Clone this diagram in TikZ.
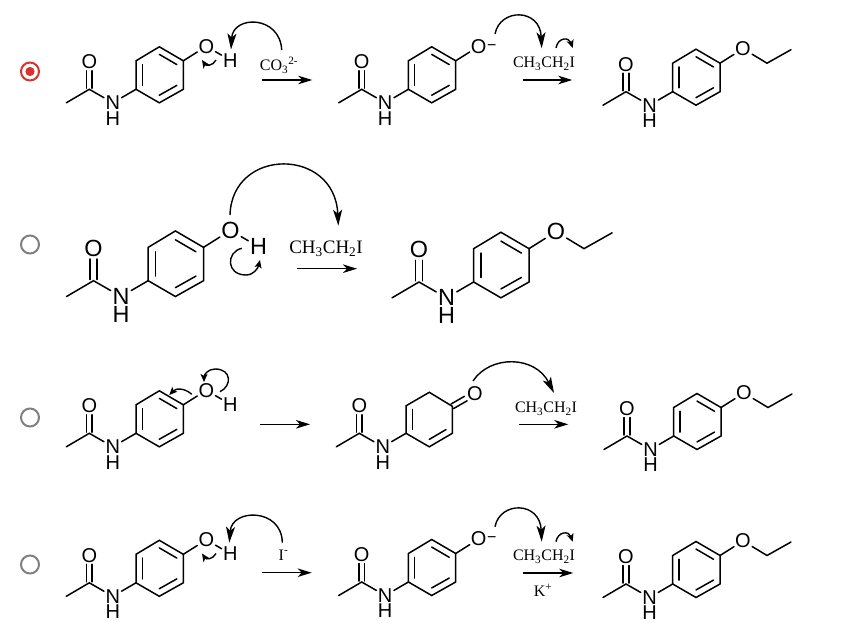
\documentclass[tikz,border=0pt]{standalone}
\usepackage{amsmath}
\usepackage{fontspec}
\setmainfont{Liberation Serif}
\newfontfamily\atomfont{Liberation Sans}
\usetikzlibrary{arrows.meta, calc}
\definecolor{radiored}{RGB}{214, 52, 44}
\definecolor{radiogray}{RGB}{128, 128, 128}
\tikzset{
  atom/.style={circle, inner sep=0pt, font=\atomfont\fontsize{20}{20}\selectfont},
  bondline/.style={line width=1.5pt, line cap=round},
  rxnarrow/.style={line width=1.5pt, -{Stealth[length=14pt, width=8.5pt, inset=4pt]}},
  curlyarrow/.style={line width=1.4pt, -{Stealth[length=16pt, width=9pt, inset=4pt]}},
  tinyarrow/.style={line width=1.4pt, -{Stealth[length=8pt, width=7pt, inset=2pt]}},
  reagent/.style={inner sep=0pt, font=\fontsize{16}{16}\selectfont},
  bigreagent/.style={inner sep=0pt, font=\fontsize{19}{19}\selectfont},
  radiobtn/.style={circle, draw=radiogray, line width=2pt, minimum size=18pt, inner sep=0pt},
  % left part of every molecule, origin on the carbonyl carbon
  amide/.pic={
    \coordinate (C) at (0,0);
    \coordinate (Me) at (-23,13.5);
    \node[atom] (Ox) at (0,-27.5) {O};
    \node[atom] (N) at (23.5,13.5) {N};
    \node[atom] (NH) at (23.5,29) {H};
    \coordinate (r1) at (46.7,0);
    \foreach \s in {-2.8,2.8}
      \draw[bondline] (\s,-1) -- (\s,-18.5);
    \draw[bondline] (Me) -- (C) -- (N);
    \draw[bondline] (N) -- (r1);
  },
  % benzene ring with oxygen
  phenol/.pic={
    \pic {amide};
    \coordinate (r2) at (46.7,-28.5);
    \coordinate (r3) at (70,-42.5);
    \coordinate (r4) at (94,-28.5);
    \coordinate (r5) at (94,0);
    \coordinate (r6) at (70,13.5);
    \coordinate (ctr) at (70,-14.5);
    \draw[bondline] (r1) -- (r2) -- (r3) -- (r4) -- (r5) -- (r6) -- cycle;
    \foreach \a/\b in {r1/r2,r3/r4,r5/r6}
      \draw[bondline] ($(\a)!.27!(ctr)$) -- ($(\b)!.27!(ctr)$);
    \node[atom] (Oe) at (117,-43) {O};
    \draw[bondline] (r4) -- (Oe);
  },
  hydroxy/.pic={
    \pic {phenol};
    \node[atom] (OH) at (141,-29) {H};
    \draw[bondline] (Oe) -- (OH);
  },
  oxide/.pic={
    \pic {phenol};
    \node[atom, font=\atomfont\fontsize{16}{16}\selectfont] (minus) at (130,-42) {−};
  },
  ether/.pic={
    \pic {phenol};
    \coordinate (e1) at (141,-28.5);
    \coordinate (e2) at (165,-42);
    \draw[bondline] (Oe) -- (e1) -- (e2);
  },
  % cyclohexadienone of the third row
  dienone/.pic={
    \pic {amide};
    \coordinate (r2) at (46.7,-27.5);
    \coordinate (r3) at (70,-41);
    \coordinate (r4) at (93,-27);
    \coordinate (r5) at (93,0);
    \coordinate (r6) at (70,13.5);
    \coordinate (ctr) at (70,-14);
    \draw[bondline] (r1) -- (r2) -- (r3) -- (r4) -- (r5) -- (r6) -- cycle;
    \foreach \a/\b in {r1/r2,r5/r6}
      \draw[bondline] ($(\a)!.27!(ctr)$) -- ($(\b)!.27!(ctr)$);
    \node[atom] (Ok) at (115.5,-40) {O};
    \draw[bondline] (94.3,-24.75) -- (107.8,-32.5);
    \draw[bondline] (91.7,-29.25) -- (105.2,-37);
  }
}
\begin{document}
\begin{tikzpicture}[x=1pt, y=-1pt]
  \useasboundingbox (0,0) rectangle (851,639);
  \fill[white] (0,0) rectangle (851,639);

  % Radio buttons
  \node[radiobtn, draw=radiored] (radio1) at (30,71.5) {};
  \fill[radiored] (radio1.center) circle (4.6);
  \node[radiobtn] (radio2) at (30,244.5) {};
  \node[radiobtn] (radio3) at (30,417.5) {};
  \node[radiobtn] (radio4) at (30,564.5) {};

  % Molecules
  \pic (a1) at (89.3,89.3) {hydroxy};
  \pic (a2) at (361.7,89.3) {oxide};
  \pic (a3) at (626,91.7) {ether};
  \pic[scale=1.17, transform shape] (b1) at (93.5,280.7) {hydroxy};
  \pic[scale=1.17, transform shape] (b2) at (419,282) {ether};
  \pic (c1) at (89.3,433.3) {hydroxy};
  \pic (c2) at (359.3,433.3) {dienone};
  \pic (c3) at (627,436) {ether};
  \pic (d1) at (89.3,582.8) {hydroxy};
  \pic (d2) at (361.7,582) {oxide};
  \pic (d3) at (626,584) {ether};

  % Reaction arrows
  \foreach \n/\x/\y/\len in {a/261.7/80/50.6, e/522.7/80/49.6, b/297/268.7/60, c/260/424.3/50, f/518.7/424.3/49.6, d/261.7/572.7/50, g/522.7/573/50.6} {
    \coordinate (\n start) at (\x,\y);
    \coordinate (\n end) at (\x+\len,\y);
    \draw[rxnarrow] (\n start) -- (\n end);
  }

  % Reagents
  \node[reagent] (co3) at (279,65) {CO$_{\text{3}}$$^{\text{2-}}$};
  \node[reagent] (ethyl1) at (544,64) {CH$_{\text{3}}$CH$_{\text{2}}$I};
  \node[bigreagent] (ethyl2) at (326,249) {CH$_{\text{3}}$CH$_{\text{2}}$I};
  \node[reagent] (ethyl3) at (546,408.5) {CH$_{\text{3}}$CH$_{\text{2}}$I};
  \node[reagent] (iodide) at (283.5,555) {I$^{\text{-}}$};
  \node[reagent] (ethyl4) at (544,557) {CH$_{\text{3}}$CH$_{\text{2}}$I};
  \node[reagent] (potassium) at (543,590) {K$^{\text{+}}$};

  % Curved arrows, row 1
  \draw[curlyarrow] (281.7,50) .. controls (280,15) and (233,15) .. (231,49.5);
  \draw[tinyarrow] (216,60) .. controls (213,66) and (206,66) .. (202,60);
  \draw[curlyarrow] (495,34) .. controls (500,8) and (540,8) .. (541.7,48.3);
  \draw[tinyarrow] (556,48) .. controls (558,37) and (569,37) .. (572.7,48);

  % Curved arrows, row 2
  \draw[curlyarrow] (230,215) .. controls (232,147) and (335,147) .. (338.3,225.7);
  \draw[tinyarrow] (241.7,248.3) .. controls (226,252) and (226,275) .. (246,275)
    .. controls (254,275) and (258,268) .. (260,260);

  % Curved arrows, row 3
  \draw[tinyarrow] (220,391.7) .. controls (232,386) and (232,369) .. (215,369)
    .. controls (208,369) and (204,375) .. (204,382);
  \draw[tinyarrow] (191.7,394.3) .. controls (185,388) and (176,388) .. (169.3,395);
  \draw[curlyarrow] (473,381) .. controls (490,355) and (535,355) .. (554,393);

  % Curved arrows, row 4
  \draw[curlyarrow] (282.3,542.7) .. controls (282,508) and (232,508) .. (229.3,542.7);
  \draw[tinyarrow] (216,553.5) .. controls (213,559.5) and (206,559.5) .. (202,553.5);
  \draw[curlyarrow] (495,526.7) .. controls (500,501) and (540,501) .. (541.7,541.7);
  \draw[tinyarrow] (556,541.7) .. controls (558,531) and (569,531) .. (572.7,541.7);
\end{tikzpicture}
\end{document}
